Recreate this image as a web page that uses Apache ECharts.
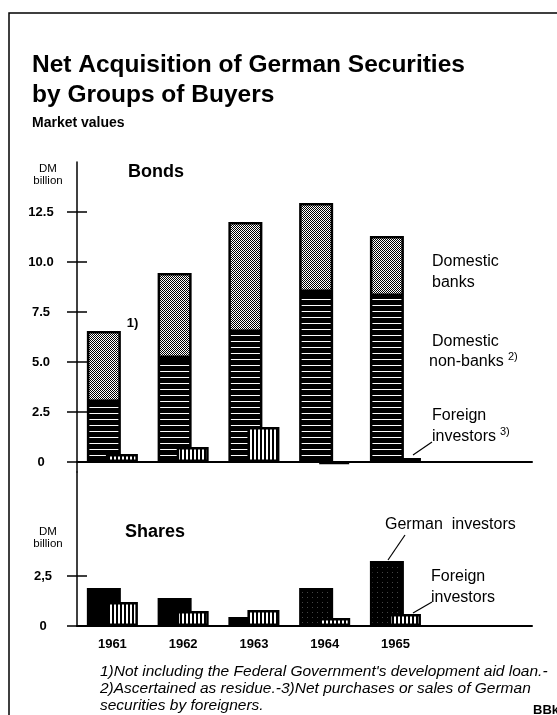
<!DOCTYPE html>
<html>
<head>
<meta charset="utf-8">
<script src="https://cdn.jsdelivr.net/npm/echarts@6/dist/echarts.min.js"></script>
<style>
html, body { margin: 0; padding: 0; background: #fff; }
#main { width: 557px; height: 715px; }
</style>
</head>
<body>
<div id="main"></div>
<script>
// data (DM billion)
var years = ['1961', '1962', '1963', '1964', '1965'];
var bondsNonBanks = [3.0, 5.2, 6.5, 8.5, 8.3];
var bondsBanks = [3.55, 4.25, 5.5, 4.45, 3.0];
var bondsForeign = [0.4, 0.75, 1.75, -0.1, 0.2];
var sharesGerman = [1.9, 1.4, 0.45, 1.9, 3.25];
var sharesForeign = [1.2, 0.75, 0.8, 0.4, 0.6];
var bondTicks = [0, 2.5, 5, 7.5, 10, 12.5];
var bondTickLabels = ['0', '2.5', '5.0', '7.5', '10.0', '12.5'];
var shareTicks = [0, 2.5];
var shareTickLabels = ['0', '2,5'];

// hatch patterns like the print
function pattern(w, h, draw) {
  var c = document.createElement('canvas');
  c.width = w; c.height = h;
  var ctx = c.getContext('2d');
  ctx.fillStyle = '#fff';
  ctx.fillRect(0, 0, w, h);
  ctx.fillStyle = '#000';
  draw(ctx);
  return { image: c, repeat: 'repeat' };
}
var stipple = pattern(2, 2, function (ctx) { ctx.fillRect(0, 0, 1, 1); ctx.fillRect(1, 1, 1, 1); });
var hStripes = pattern(6, 6, function (ctx) { ctx.fillRect(0, 0, 6, 5); });
var vStripes = pattern(4, 4, function (ctx) { ctx.fillRect(0, 0, 2, 4); });
var darkDots = pattern(5, 5, function (ctx) {
  ctx.fillRect(0, 0, 5, 5); ctx.fillStyle = '#444'; ctx.fillRect(2, 2, 1, 1);
});

// value first, year position second (x is read from column 1 via encode,
// so that stacking happens on the value column)
function pairs(arr) {
  return arr.map(function (v, i) { return [v, i + 1]; });
}
var enc = { x: 1, y: 0 };

var myChart = echarts.init(document.getElementById('main'));

var axisColor = '#000';
var tickFont = { color: '#000', fontFamily: 'Liberation Sans', fontWeight: 'bold', fontSize: 13 };

function valueX(grid, showLabels) {
  return {
    type: 'value', gridIndex: grid, min: 0.5, max: 6.93,
    axisLine: { onZero: true, lineStyle: { color: axisColor, width: 2 } },
    axisTick: { show: false },
    splitLine: { show: false },
    axisLabel: showLabels ? {
      show: true, customValues: [1, 2, 3, 4, 5], margin: 12,
      color: '#000', fontFamily: 'Liberation Sans', fontWeight: 'bold', fontSize: 13,
      formatter: function (v) { return years[Math.round(v) - 1]; }
    } : { show: false }
  };
}

function outerY(grid, min, max, ticks, labels, margin) {
  return {
    type: 'value', gridIndex: grid, position: 'left', min: min, max: max,
    axisLine: { show: true, onZero: false, lineStyle: { color: axisColor, width: 1.5 } },
    axisTick: { show: true, customValues: ticks, length: 10, lineStyle: { color: axisColor, width: 1.5 } },
    axisLabel: Object.assign({
      customValues: ticks, margin: margin, align: 'center',
      formatter: function (v) { return labels[ticks.indexOf(v)]; }
    }, tickFont),
    splitLine: { show: false }
  };
}

function innerY(grid, min, max, ticks) {
  return {
    type: 'value', gridIndex: grid, position: 'left', min: min, max: max,
    axisLine: { show: false },
    axisTick: { show: true, inside: true, customValues: ticks, length: 10, lineStyle: { color: axisColor, width: 1.5 } },
    axisLabel: { show: false },
    splitLine: { show: false }
  };
}

var border = { borderColor: '#000', borderWidth: 2.5 };

function txt(x, y, text, font, align) {
  return {
    type: 'text', x: x, y: y, silent: true,
    style: { text: text, font: font, fill: '#000', align: align || 'left', verticalAlign: 'middle' }
  };
}
function ln(x1, y1, x2, y2, w) {
  return {
    type: 'line', silent: true,
    shape: { x1: x1, y1: y1, x2: x2, y2: y2 },
    style: { stroke: '#000', lineWidth: w || 1.2 }
  };
}

var F = '"Liberation Sans"';
var option = {
  animation: false,
  backgroundColor: '#fff',
  grid: [
    { left: 77, top: 162, width: 455, height: 310 },
    { left: 77, top: 472, width: 455, height: 154 }
  ],
  xAxis: [valueX(0, false), valueX(1, true)],
  yAxis: [
    outerY(0, -0.5, 15, bondTicks, bondTickLabels, 36),
    innerY(0, -0.5, 15, bondTicks.slice(1)),
    outerY(1, 0, 7.7, shareTicks, shareTickLabels, 34),
    innerY(1, 0, 7.7, shareTicks.slice(1))
  ],
  series: [
    {
      name: 'Domestic non-banks', type: 'bar', xAxisIndex: 0, yAxisIndex: 0, encode: enc,
      stack: 'domestic', barWidth: 34, barGap: '-44%',
      itemStyle: Object.assign({ color: hStripes }, border),
      data: pairs(bondsNonBanks)
    },
    {
      name: 'Domestic banks', type: 'bar', xAxisIndex: 0, yAxisIndex: 0, encode: enc,
      stack: 'domestic', barWidth: 34, barGap: '-44%',
      itemStyle: Object.assign({ color: stipple }, border),
      data: pairs(bondsBanks).map(function (d, i) {
        return i === 0 ? {
          value: d,
          label: { show: true, position: [40, -14], formatter: '1)',
            fontFamily: 'Liberation Sans', fontWeight: 'bold', fontSize: 13, color: '#000' }
        } : d;
      })
    },
    {
      name: 'Foreign investors', type: 'bar', xAxisIndex: 0, yAxisIndex: 0, encode: enc,
      barWidth: 32, barGap: '-44%',
      itemStyle: Object.assign({ color: vStripes }, border),
      data: pairs(bondsForeign)
    },
    {
      name: 'German investors', type: 'bar', xAxisIndex: 1, yAxisIndex: 2, encode: enc,
      barWidth: 34, barGap: '-44%',
      itemStyle: Object.assign({ color: '#000' }, border),
      data: pairs(sharesGerman).map(function (d, i) {
        return i >= 3 ? { value: d, itemStyle: { color: darkDots } } : d;
      })
    },
    {
      name: 'Foreign investors (shares)', type: 'bar', xAxisIndex: 1, yAxisIndex: 2, encode: enc,
      barWidth: 32, barGap: '-44%',
      itemStyle: Object.assign({ color: vStripes }, border),
      data: pairs(sharesForeign)
    }
  ],
  graphic: [
    { type: 'polyline', silent: true, shape: { points: [[557, 13], [9, 13], [9, 715]] },
      style: { stroke: '#000', lineWidth: 1.5, fill: null } },
    txt(32, 65, 'Net Acquisition of German Securities', 'bold 24.5px ' + F),
    txt(32, 95, 'by Groups of Buyers', 'bold 24.5px ' + F),
    txt(32, 123, 'Market values', 'bold 14px ' + F),
    txt(48, 169, 'DM', '11.5px ' + F, 'center'),
    txt(48, 181, 'billion', '11.5px ' + F, 'center'),
    txt(128, 172, 'Bonds', 'bold 18px ' + F),
    txt(432, 262, 'Domestic', '16px ' + F),
    txt(432, 283, 'banks', '16px ' + F),
    txt(432, 342, 'Domestic', '16px ' + F),
    txt(429, 362, 'non-banks', '16px ' + F),
    txt(508, 357, '2)', '11px ' + F),
    txt(432, 416, 'Foreign', '16px ' + F),
    txt(432, 437, 'investors', '16px ' + F),
    txt(500, 432, '3)', '11px ' + F),
    ln(413, 455, 432, 442),
    txt(125, 532, 'Shares', 'bold 18px ' + F),
    txt(48, 532, 'DM', '11.5px ' + F, 'center'),
    txt(48, 544, 'billion', '11.5px ' + F, 'center'),
    txt(385, 525, 'German  investors', '16px ' + F),
    ln(388, 560, 405, 535),
    txt(431, 577, 'Foreign', '16px ' + F),
    txt(431, 598, 'investors', '16px ' + F),
    ln(413, 613, 432, 602),
    txt(100, 672, "1)Not including the Federal Government's development aid loan.-", 'italic 15.5px ' + F),
    txt(100, 689, '2)Ascertained as residue.-3)Net purchases or sales of German', 'italic 15.5px ' + F),
    txt(100, 706, 'securities by foreigners.', 'italic 15.5px ' + F),
    txt(533, 710, 'BBk', 'bold 13px ' + F)
  ]
};

myChart.setOption(option);
</script>
</body>
</html>
